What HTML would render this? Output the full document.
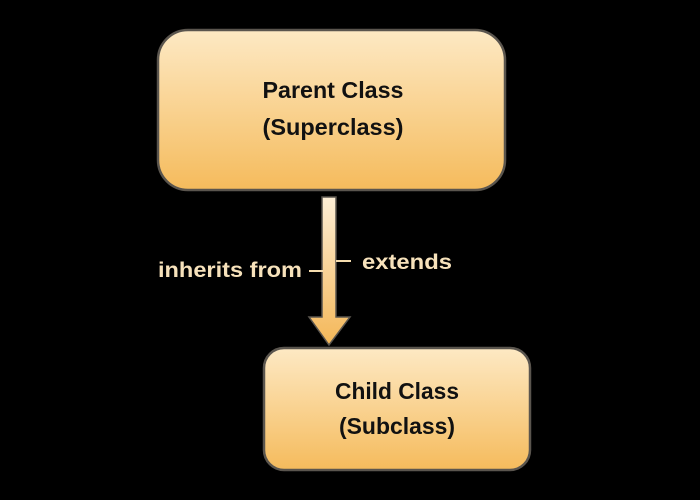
<!DOCTYPE html>
<html><head><style>
html,body{margin:0;padding:0;background:#000;width:700px;height:500px;overflow:hidden}
</style></head><body>
<svg width="700" height="500" xmlns="http://www.w3.org/2000/svg">
<defs>
<linearGradient id="g" x1="0" y1="0" x2="0" y2="1">
<stop offset="0" stop-color="#fde9c4"/><stop offset="1" stop-color="#f5bb5c"/></linearGradient>
<linearGradient id="a" x1="0" y1="0" x2="0" y2="1">
<stop offset="0" stop-color="#fdeed5"/><stop offset="1" stop-color="#f4b758"/></linearGradient>
</defs>
<rect x="158" y="30" width="347" height="160" rx="30" fill="url(#g)" stroke="#5a554e" stroke-width="2.5"/>
<rect x="264" y="348" width="266" height="122" rx="20" fill="url(#g)" stroke="#5a554e" stroke-width="2.5"/>
<path d="M322 197 H336 V317 H350 L329 345 L309 317 H322 Z" fill="url(#a)" stroke="#5a554e" stroke-width="1.5"/>
<line x1="309" y1="271" x2="323" y2="271" stroke="#f5dcae" stroke-width="2"/>
<line x1="336" y1="261" x2="351" y2="261" stroke="#f5dcae" stroke-width="2"/>
<g font-family="Liberation Sans, sans-serif" font-weight="bold" font-size="23" fill="#111" text-anchor="middle">
<text x="333" y="98" textLength="141" lengthAdjust="spacingAndGlyphs">Parent Class</text>
<text x="333" y="135" textLength="141" lengthAdjust="spacingAndGlyphs">(Superclass)</text>
<text x="397" y="399" textLength="124" lengthAdjust="spacingAndGlyphs">Child Class</text>
<text x="397" y="434" textLength="116" lengthAdjust="spacingAndGlyphs">(Subclass)</text>
</g>
<g font-family="Liberation Sans, sans-serif" font-weight="bold" font-size="21" fill="#f7e2bb">
<text x="158" y="277" textLength="144" lengthAdjust="spacingAndGlyphs">inherits from</text>
<text x="362" y="269" textLength="90" lengthAdjust="spacingAndGlyphs">extends</text>
</g>
</svg>
</body></html>
